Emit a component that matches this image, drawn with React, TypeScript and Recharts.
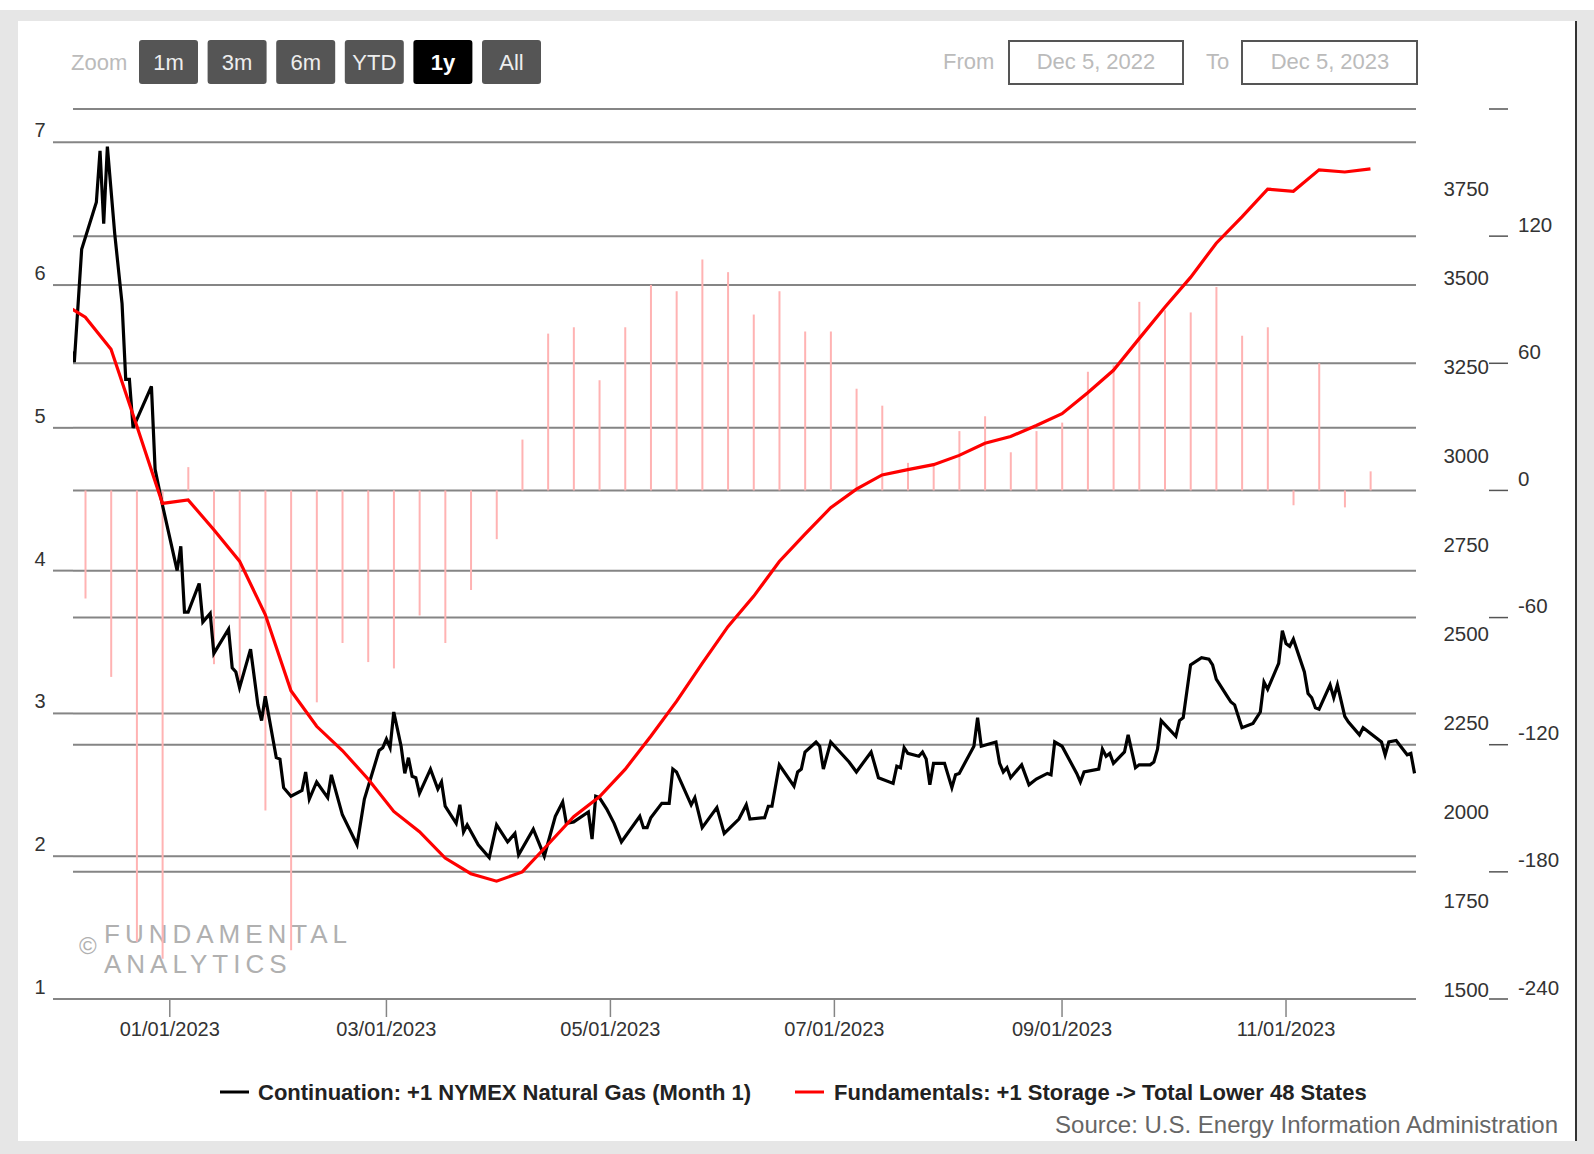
import React from 'react';
import { ComposedChart, Line, Bar, XAxis, YAxis, CartesianGrid } from 'recharts';

// ---------- DATA ----------
const priceDates = [
  '2022-12-05','2022-12-06','2022-12-08','2022-12-12','2022-12-13','2022-12-14','2022-12-15','2022-12-17','2022-12-19','2022-12-20',
  '2022-12-21','2022-12-22','2022-12-27','2022-12-28','2022-12-30','2023-01-03','2023-01-04','2023-01-05','2023-01-06','2023-01-09',
  '2023-01-10','2023-01-12','2023-01-13','2023-01-17','2023-01-18','2023-01-19','2023-01-20','2023-01-23','2023-01-25','2023-01-26',
  '2023-01-27','2023-01-30','2023-01-31','2023-02-01','2023-02-03','2023-02-06','2023-02-07','2023-02-08','2023-02-10','2023-02-13',
  '2023-02-14','2023-02-17','2023-02-21','2023-02-23','2023-02-27','2023-02-28','2023-03-01','2023-03-02','2023-03-03','2023-03-05',
  '2023-03-06','2023-03-07','2023-03-08','2023-03-09','2023-03-10','2023-03-13','2023-03-15','2023-03-16','2023-03-17','2023-03-20',
  '2023-03-21','2023-03-22','2023-03-23','2023-03-26','2023-03-29','2023-03-31','2023-04-03','2023-04-05','2023-04-06','2023-04-10',
  '2023-04-13','2023-04-16','2023-04-18','2023-04-19','2023-04-21','2023-04-25','2023-04-26','2023-04-27','2023-04-28','2023-04-30',
  '2023-05-02','2023-05-04','2023-05-09','2023-05-10','2023-05-11','2023-05-12','2023-05-15','2023-05-17','2023-05-18','2023-05-19',
  '2023-05-23','2023-05-24','2023-05-26','2023-05-30','2023-06-01','2023-06-05','2023-06-07','2023-06-08','2023-06-12','2023-06-13',
  '2023-06-14','2023-06-16','2023-06-20','2023-06-21','2023-06-22','2023-06-23','2023-06-26','2023-06-27','2023-06-28','2023-06-30',
  '2023-07-05','2023-07-07','2023-07-11','2023-07-13','2023-07-17','2023-07-18','2023-07-19','2023-07-20','2023-07-21','2023-07-24',
  '2023-07-25','2023-07-26','2023-07-27','2023-07-28','2023-07-31','2023-08-02','2023-08-03','2023-08-04','2023-08-08','2023-08-09',
  '2023-08-10','2023-08-14','2023-08-15','2023-08-16','2023-08-17','2023-08-18','2023-08-21','2023-08-23','2023-08-25','2023-08-28',
  '2023-08-29','2023-08-30','2023-09-01','2023-09-05','2023-09-06','2023-09-07','2023-09-11','2023-09-12','2023-09-13','2023-09-14',
  '2023-09-15','2023-09-18','2023-09-19','2023-09-21','2023-09-22','2023-09-25','2023-09-26','2023-09-27','2023-09-28','2023-10-02',
  '2023-10-03','2023-10-04','2023-10-06','2023-10-09','2023-10-11','2023-10-12','2023-10-13','2023-10-16','2023-10-17','2023-10-18',
  '2023-10-20','2023-10-23','2023-10-25','2023-10-26','2023-10-27','2023-10-30','2023-10-31','2023-11-01','2023-11-02','2023-11-03',
  '2023-11-06','2023-11-07','2023-11-08','2023-11-09','2023-11-10','2023-11-13','2023-11-14','2023-11-15','2023-11-17','2023-11-18',
  '2023-11-21','2023-11-22','2023-11-27','2023-11-28','2023-11-29','2023-12-01','2023-12-04','2023-12-05','2023-12-06',
];
const priceValues = [
  5.56,5.46,6.25,6.58,6.94,6.43,6.97,6.36,5.87,5.34,
  5.34,5.00,5.29,4.71,4.46,4.00,4.17,3.71,3.71,3.91,
  3.64,3.70,3.42,3.59,3.32,3.29,3.18,3.45,3.06,2.95,
  3.12,2.69,2.68,2.48,2.42,2.46,2.59,2.40,2.52,2.41,
  2.57,2.29,2.08,2.40,2.74,2.76,2.82,2.76,3.01,2.77,
  2.58,2.69,2.56,2.55,2.44,2.61,2.47,2.52,2.35,2.23,
  2.36,2.17,2.22,2.08,1.99,2.22,2.10,2.16,2.01,2.19,
  2.00,2.28,2.38,2.23,2.24,2.31,2.12,2.42,2.41,2.33,
  2.23,2.10,2.28,2.20,2.20,2.27,2.37,2.37,2.61,2.59,
  2.36,2.41,2.20,2.34,2.16,2.26,2.36,2.26,2.27,2.35,
  2.35,2.64,2.49,2.59,2.61,2.73,2.80,2.77,2.61,2.80,
  2.66,2.59,2.73,2.55,2.51,2.63,2.62,2.76,2.72,2.70,
  2.73,2.68,2.50,2.65,2.65,2.48,2.57,2.58,2.77,2.97,
  2.77,2.80,2.65,2.59,2.62,2.55,2.64,2.50,2.54,2.58,
  2.57,2.80,2.77,2.58,2.52,2.59,2.61,2.75,2.70,2.72,
  2.65,2.73,2.85,2.62,2.64,2.64,2.66,2.75,2.95,2.84,
  2.95,2.97,3.34,3.39,3.38,3.34,3.24,3.12,3.08,3.06,
  2.90,2.93,3.01,3.22,3.17,3.35,3.58,3.49,3.47,3.52,
  3.29,3.14,3.11,3.04,3.03,3.20,3.11,3.20,2.98,2.94,
  2.85,2.90,2.80,2.71,2.80,2.81,2.71,2.72,2.58,
];

const storageDates = [
  '2022-12-02','2022-12-09','2022-12-16','2022-12-23','2022-12-30','2023-01-06','2023-01-13','2023-01-20','2023-01-27','2023-02-03',
  '2023-02-10','2023-02-17','2023-02-24','2023-03-03','2023-03-10','2023-03-17','2023-03-24','2023-03-31','2023-04-07','2023-04-14',
  '2023-04-21','2023-04-28','2023-05-05','2023-05-12','2023-05-19','2023-05-26','2023-06-02','2023-06-09','2023-06-16','2023-06-23',
  '2023-06-30','2023-07-07','2023-07-14','2023-07-21','2023-07-28','2023-08-04','2023-08-11','2023-08-18','2023-08-25','2023-09-01',
  '2023-09-08','2023-09-15','2023-09-22','2023-09-29','2023-10-06','2023-10-13','2023-10-20','2023-10-27','2023-11-03','2023-11-10',
  '2023-11-17','2023-11-24',
];
const storageValues = [
  3460,3415,3325,3110,2892,2902,2818,2730,2580,2366,
  2266,2198,2118,2027,1970,1896,1852,1831,1857,1934,
  2012,2068,2145,2238,2336,2443,2546,2631,2729,2806,
  2880,2932,2972,2987,3001,3027,3061,3080,3111,3144,
  3203,3266,3355,3443,3527,3623,3697,3775,3769,3829,
  3823,3832,
];
const storageChanges: (number | null)[] = [
  null,-51,-88,-213,-221,11,-82,-91,-151,-217,
  -100,-72,-81,-84,-59,-72,-47,-23,24,74,
  77,52,77,97,94,109,103,83,94,75,
  75,48,40,13,13,28,35,18,28,32,
  56,59,89,85,84,96,73,77,-7,60,
  -8,9,
];

const xTickDates = ['2023-01-01','2023-03-01','2023-05-01','2023-07-01','2023-09-01','2023-11-01'];
const xTickLabels = ['01/01/2023','03/01/2023','05/01/2023','07/01/2023','09/01/2023','11/01/2023'];
const priceTicks = [1, 2, 3, 4, 5, 6, 7];
const storageTicks = [1500, 1750, 2000, 2250, 2500, 2750, 3000, 3250, 3500, 3750];
const changeTicks = [-240, -180, -120, -60, 0, 60, 120, 180];
const zoomButtons = ['1m', '3m', '6m', 'YTD', '1y', 'All'];
const selectedZoom = '1y';
const fromDate = 'Dec 5, 2022';
const toDate = 'Dec 5, 2023';
const seriesNames = ['Continuation: +1 NYMEX Natural Gas (Month 1)', 'Fundamentals: +1 Storage -> Total Lower 48 States'];
const sourceText = 'Source: U.S. Energy Information Administration';
const watermarkLines = ['FUNDAMENTAL', 'ANALYTICS'];

// ---------- HELPERS ----------
const BASE = Date.UTC(2023, 0, 1);
const dayOf = (s: string) => {
  const [y, m, d] = s.split('-').map(Number);
  return (Date.UTC(y, m - 1, d) - BASE) / 86400000;
};

const rowsMap = new Map<number, any>();
const getRow = (d: number) => {
  if (!rowsMap.has(d)) rowsMap.set(d, { d });
  return rowsMap.get(d);
};
priceDates.forEach((s, i) => { getRow(dayOf(s)).price = priceValues[i]; });
storageDates.forEach((s, i) => {
  const r = getRow(dayOf(s));
  r.stor = storageValues[i];
  if (storageChanges[i] !== null) r.chg = storageChanges[i];
});
const chartData = Array.from(rowsMap.values()).sort((a, b) => a.d - b.d);
const xTickDays = xTickDates.map(dayOf);
const xLabelOf = (v: number) => xTickLabels[xTickDays.indexOf(v)] ?? '';

const FONT = '"Liberation Sans", Arial, Helvetica, sans-serif';
const GRID = '#858585';
const PLOT_LEFT = 73;
const PLOT_BOTTOM = 999;

const PriceTick = (props: any) => {
  const { y, payload } = props;
  return (
    <g>
      <line x1={53} x2={PLOT_LEFT} y1={y} y2={y} stroke={GRID} strokeWidth={2} />
      <text x={40} y={y - 12} textAnchor="middle" dominantBaseline="central" fontSize={20} fill="#333" fontFamily={FONT}>
        {payload.value}
      </text>
    </g>
  );
};

const StorageTick = (props: any) => {
  const { y, payload } = props;
  return (
    <text x={1489} y={y - 10} textAnchor="end" dominantBaseline="central" fontSize={20.5} fill="#333" fontFamily={FONT}>
      {payload.value}
    </text>
  );
};

const ChangeTick = (props: any) => {
  const { y, payload } = props;
  return (
    <g>
      <line x1={1489} x2={1508} y1={y} y2={y} stroke="#555" strokeWidth={1.5} />
      {payload.value !== 180 && (
        <text x={1518} y={y - 12} textAnchor="start" dominantBaseline="central" fontSize={20.5} fill="#333" fontFamily={FONT}>
          {payload.value}
        </text>
      )}
    </g>
  );
};

const DateTick = (props: any) => {
  const { x, payload } = props;
  return (
    <g>
      <line x1={x} x2={x} y1={PLOT_BOTTOM} y2={PLOT_BOTTOM + 18} stroke={GRID} strokeWidth={1.5} />
      <text x={x} y={PLOT_BOTTOM + 30} textAnchor="middle" dominantBaseline="central" fontSize={20} fill="#333" fontFamily={FONT}>
        {xLabelOf(payload.value)}
      </text>
    </g>
  );
};

export default function App() {
  return (
    <div style={{ position: 'absolute', left: 0, top: 0, width: 1594, height: 1154, background: '#fff', overflow: 'hidden' }}>
      <div style={{ position: 'absolute', left: 0, top: 10, width: 1594, height: 1144, background: '#e6e6e6' }} />
      <div style={{ position: 'absolute', left: 18, top: 21, width: 1557, height: 1120, background: '#fff', borderRight: '2px solid #333' }} />

      {/* watermark (behind the chart) */}
      <svg width={1594} height={1154} style={{ position: 'absolute', left: 0, top: 0 }}>
        <g fill="#b0b0b0" fontFamily={FONT}>
          <text x={79} y={945} fontSize={24} dominantBaseline="central">©</text>
          <text x={104} y={943} fontSize={26} letterSpacing={5}>{watermarkLines[0]}</text>
          <text x={104} y={973} fontSize={26} letterSpacing={5}>{watermarkLines[1]}</text>
        </g>
      </svg>

      <div style={{ position: 'absolute', left: 0, top: 0 }}>
        <ComposedChart width={1594} height={1154} data={chartData} margin={{ top: 109, right: 43, bottom: 95, left: 0 }}>
          <XAxis
            dataKey="d"
            type="number"
            domain={[-26.36, 339.4]}
            allowDataOverflow
            ticks={xTickDays}
            interval={0}
            tick={(p: any) => <DateTick {...p} />}
            axisLine={false}
            tickLine={false}
            height={60}
          />
          <YAxis
            yAxisId="price"
            orientation="left"
            width={73}
            domain={[1, 7.233]}
            allowDataOverflow
            ticks={priceTicks}
            interval={0}
            tick={(p: any) => <PriceTick {...p} />}
            axisLine={false}
            tickLine={false}
          />
          <YAxis
            yAxisId="storage"
            orientation="right"
            width={75}
            domain={[1500, 4000]}
            allowDataOverflow
            ticks={storageTicks}
            interval={0}
            tick={(p: any) => <StorageTick {...p} />}
            axisLine={false}
            tickLine={false}
          />
          <YAxis
            yAxisId="change"
            orientation="right"
            width={60}
            domain={[-240, 180]}
            allowDataOverflow
            ticks={changeTicks}
            interval={0}
            tick={(p: any) => <ChangeTick {...p} />}
            axisLine={false}
            tickLine={false}
          />
          <CartesianGrid yAxisId="price" vertical={false} stroke={GRID} strokeWidth={2} />
          <CartesianGrid yAxisId="change" vertical={false} stroke={GRID} strokeWidth={2} />
          <Bar yAxisId="change" dataKey="chg" barSize={2} fill="#ffb3b3" isAnimationActive={false} />
          <Line yAxisId="price" dataKey="price" stroke="#000" strokeWidth={3.2} dot={false} connectNulls isAnimationActive={false} />
          <Line yAxisId="storage" dataKey="stor" stroke="#ff0000" strokeWidth={3.2} dot={false} connectNulls isAnimationActive={false} />
        </ComposedChart>
      </div>

      {/* UI overlay: zoom buttons, date inputs, legend, source */}
      <svg width={1594} height={1154} style={{ position: 'absolute', left: 0, top: 0, pointerEvents: 'none' }}>
        <text x={71} y={62} fontSize={22} fill="#bbb" dominantBaseline="central" fontFamily={FONT}>Zoom</text>
        {zoomButtons.map((b, i) => {
          const x = 139 + i * 68.6;
          const sel = b === selectedZoom;
          return (
            <g key={b}>
              <rect x={x} y={40} width={59} height={44} rx={3} fill={sel ? '#000' : '#555'} />
              <text x={x + 29.5} y={62} fontSize={22} fill={sel ? '#fff' : '#eee'} fontWeight={sel ? 700 : 400} textAnchor="middle" dominantBaseline="central" fontFamily={FONT}>
                {b}
              </text>
            </g>
          );
        })}
        <text x={943} y={61} fontSize={22} fill="#bbb" dominantBaseline="central" fontFamily={FONT}>From</text>
        <rect x={1009} y={41} width={174} height={43} fill="#fff" stroke="#555" strokeWidth={2} />
        <text x={1096} y={61} fontSize={22} fill="#bbb" textAnchor="middle" dominantBaseline="central" fontFamily={FONT}>{fromDate}</text>
        <text x={1206} y={61} fontSize={22} fill="#bbb" dominantBaseline="central" fontFamily={FONT}>To</text>
        <rect x={1242} y={41} width={175} height={43} fill="#fff" stroke="#555" strokeWidth={2} />
        <text x={1330} y={61} fontSize={22} fill="#bbb" textAnchor="middle" dominantBaseline="central" fontFamily={FONT}>{toDate}</text>

        <line x1={220} x2={249} y1={1092} y2={1092} stroke="#000" strokeWidth={3} />
        <text x={258} y={1092} fontSize={22} fontWeight={700} fill="#222" dominantBaseline="central" fontFamily={FONT}>{seriesNames[0]}</text>
        <line x1={795} x2={824} y1={1092} y2={1092} stroke="#ff0000" strokeWidth={3} />
        <text x={834} y={1092} fontSize={22} fontWeight={700} fill="#222" dominantBaseline="central" fontFamily={FONT}>{seriesNames[1]}</text>
        <text x={1558} y={1124} fontSize={24} fill="#666" textAnchor="end" dominantBaseline="central" fontFamily={FONT}>{sourceText}</text>
      </svg>
    </div>
  );
}
